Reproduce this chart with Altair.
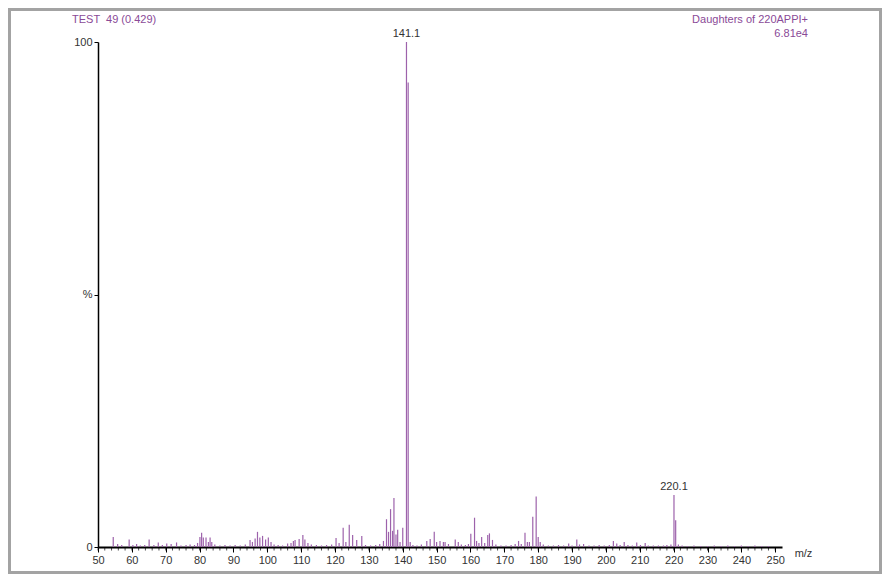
import altair as alt
import pandas as pd

# ---- data (m/z, relative intensity %) ----
peak_mz = [
    54.5, 55.8, 57.0, 59.2, 60.3, 61.4, 62.5, 63.8, 65.1, 66.5, 67.8, 69.0, 70.3, 71.6, 73.2, 74.5, 76.0, 77.2, 78.5, 79.4,
    80.1, 80.6, 81.1, 81.9, 82.6, 83.1, 83.6, 84.5, 86.0, 87.5, 89.0, 90.5, 92.0, 93.5,
    94.9, 95.6, 96.4, 97.1, 97.8, 98.6, 99.5, 100.3, 101.1, 102.0, 103.2, 104.5, 106.0, 107.0, 107.7, 108.2, 109.4,
    110.5, 111.1, 112.0, 113.0, 114.5, 116.0, 117.5, 119.0,
    120.3, 121.2, 122.4, 123.2, 124.2, 125.2, 126.4, 127.9, 129.0, 130.5, 132.0, 133.2, 134.3,
    135.2, 135.8, 136.4, 137.0, 137.4, 138.0, 138.5, 139.2, 140.0,
    141.1, 141.6,
    142.2, 143.0, 144.2, 145.5, 147.1, 148.1, 149.3, 150.0, 151.0, 152.0, 152.5, 153.5, 155.5, 156.4, 157.3, 158.5, 159.4,
    160.1, 161.2, 161.8, 162.5, 163.3, 164.2, 165.1, 165.6, 166.5, 167.5, 169.0, 170.5, 172.0, 173.2, 174.2, 175.0,
    176.1, 176.8, 177.4, 178.4, 179.4, 180.0, 180.6, 181.5, 183.0, 184.5, 186.0, 187.5, 189.0, 190.0, 191.4, 192.2,
    193.4, 195.0, 196.5, 198.0, 199.5, 201.0, 202.2, 203.2, 204.2, 205.4, 206.5, 207.8, 209.1, 210.2, 211.6, 212.5,
    214.0, 215.5, 217.0, 218.0, 219.2,
    220.1, 220.6, 221.4, 222.5, 224.0, 226.0, 228.0, 230.0, 232.0, 234.0, 236.0, 238.0, 240.0, 242.0, 244.0, 246.0, 248.0,
]
peak_int = [
    2.0, 0.6, 0.4, 1.5, 0.4, 0.6, 0.3, 0.4, 1.5, 0.4, 0.9, 0.4, 0.7, 0.6, 0.9, 0.3, 0.4, 0.5, 0.4, 0.8,
    2.0, 2.8, 1.9, 1.9, 1.0, 1.9, 1.0, 0.5, 0.3, 0.4, 0.3, 0.4, 0.3, 0.5,
    1.4, 1.0, 1.7, 3.0, 1.9, 2.2, 1.5, 1.9, 1.0, 0.5, 0.4, 0.3, 0.7, 0.8, 1.2, 1.4, 1.6,
    2.4, 1.5, 0.8, 0.5, 0.4, 0.3, 0.4, 0.5,
    1.8, 0.8, 3.8, 1.0, 4.4, 2.4, 1.4, 2.2, 0.4, 0.3, 0.4, 0.6, 1.2,
    5.5, 3.0, 7.5, 3.2, 9.7, 2.5, 3.4, 1.0, 3.8,
    100.0, 92.0,
    1.0, 0.4, 0.3, 0.5, 1.2, 1.6, 3.0, 1.0, 1.2, 1.0, 1.0, 0.6, 1.5, 1.0, 0.5, 0.4, 0.6,
    2.6, 5.8, 1.2, 0.8, 2.0, 0.8, 2.4, 2.7, 1.4, 0.5, 0.3, 0.3, 0.4, 0.6, 1.2, 0.6,
    2.8, 1.0, 1.0, 6.0, 10.0, 2.0, 1.0, 0.5, 0.3, 0.3, 0.4, 0.3, 0.7, 0.3, 1.5, 0.5,
    0.6, 0.3, 0.3, 0.4, 0.3, 0.4, 1.2, 0.7, 0.4, 1.0, 0.4, 0.3, 0.9, 0.4, 0.8, 0.3,
    0.3, 0.3, 0.3, 0.4, 0.5,
    10.3, 5.3, 0.5, 0.3, 0.2, 0.3, 0.2, 0.2, 0.3, 0.2, 0.3, 0.2, 0.3, 0.2, 0.3, 0.2, 0.2,
]
label_mz = [141.1, 220.1]
label_int = [100.0, 10.3]
label_text = ["141.1", "220.1"]

x_major = list(range(50, 251, 10))
x_minor = list(range(50, 251, 2))
y_ticks = [0, 50, 100]

header_left = "TEST \u00a049 (0.429)"
header_right_1 = "Daughters of 220APPI+"
header_right_2 = "6.81e4"

FONT = "Liberation Sans"
LINE_COLOR = "#9d62ab"
TEXT_PURPLE = "#8a4a97"

peaks = pd.DataFrame({"mz": peak_mz, "intensity": peak_int})
labels = pd.DataFrame({"mz": label_mz, "intensity": label_int, "text": label_text})
minor = pd.DataFrame({"mz": x_minor, "intensity": [0.0] * len(x_minor)})

x_scale = alt.Scale(domain=[50, 252], nice=False, zero=False)
y_scale = alt.Scale(domain=[0, 100], nice=False)

x_axis = alt.Axis(
    values=x_major, format="d",
    labelOverlap=False, labelSeparation=0,
    tickSize=5, tickColor="#000", tickWidth=1,
    domainColor="#000", domainWidth=2,
    labelFont=FONT, labelFontSize=11, labelColor="#333", labelPadding=2,
    labelFlush=False, grid=False,
    title="m/z", titleFont=FONT, titleFontSize=11, titleFontWeight="normal",
    titleColor="#333", titleX=705, titleY=6, titleAlign="center", titleBaseline="middle",
)
y_axis = alt.Axis(
    values=y_ticks,
    labelExpr="datum.value == 50 ? '%' : datum.label",
    labelOverlap=False,
    tickSize=4, tickColor="#000", domainColor="#000", domainWidth=1.5,
    labelFont=FONT, labelFontSize=11, labelColor="#333", labelPadding=2,
    grid=False, title=None,
)

X = alt.X("mz:Q", scale=x_scale, axis=x_axis)
Y = alt.Y("intensity:Q", scale=y_scale, axis=y_axis)

sticks = alt.Chart(peaks).mark_rule(color=LINE_COLOR, strokeWidth=1.2).encode(
    x=X, y=Y, y2=alt.datum(0),
)

minor_ticks = alt.Chart(minor).mark_tick(
    color="#000", thickness=1, size=3, orient="vertical", yOffset=2
).encode(x=X, y=Y)

peak_labels = alt.Chart(labels).mark_text(
    font=FONT, fontSize=11, color="#333", baseline="bottom", dy=-3
).encode(x=X, y=Y, text="text:N")

def note(txt, x, y, align):
    return alt.Chart(pd.DataFrame({"t": [txt]})).mark_text(
        font=FONT, fontSize=11, color=TEXT_PURPLE, align=align, baseline="middle"
    ).encode(x=alt.value(x), y=alt.value(y), text="t:N")

frame = alt.Chart(pd.DataFrame({"a": [0]})).mark_rect(
    filled=False, stroke="#a3a3a3", strokeWidth=3
).encode(
    x=alt.value(-88.5), x2=alt.value(782.5), y=alt.value(-32.5), y2=alt.value(530.5)
)

chart = alt.layer(
    frame,
    sticks,
    minor_ticks,
    peak_labels,
    note(header_left, -26, -22, "left"),
    note(header_right_1, 710, -22, "right"),
    note(header_right_2, 710, -8, "right"),
).properties(
    width=684, height=505,
    autosize=alt.AutoSizeParams(type="none"),
    padding={"left": 90, "top": 34, "right": 100, "bottom": 27},
).configure_view(stroke=None)

chart.save("out.html", embed_options={"renderer": "svg", "actions": False})
